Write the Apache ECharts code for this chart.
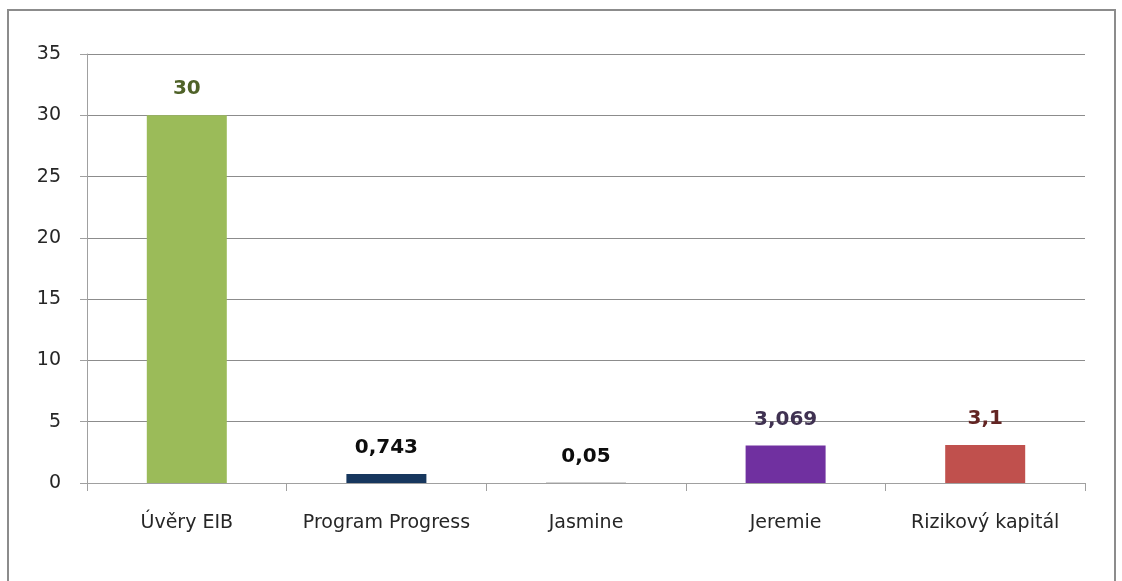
<!DOCTYPE html>
<html>
<head>
<meta charset="utf-8">
<script src="https://cdn.jsdelivr.net/npm/echarts@6/dist/echarts.min.js"></script>
<style>
html,body{margin:0;padding:0;background:#fff;}
#chart{width:1122px;height:581px;}
</style>
</head>
<body>
<div id="chart"></div>
<script>
const categories = ['Úvěry EIB', 'Program Progress', 'Jasmine', 'Jeremie', 'Rizikový kapitál'];
const values = [30, 0.743, 0.05, 3.069, 3.1];
const barColors = ['#9bbb59', '#17375e', '#a6a6a6', '#7030a0', '#c0504d'];
const labelColors = ['#4f6228', '#0d0d0d', '#0d0d0d', '#3f3151', '#632523'];
const yTicks = [0, 5, 10, 15, 20, 25, 30, 35];

const chart = echarts.init(document.getElementById('chart'), null, {renderer: 'canvas'});
const fontFamily = '"DejaVu Sans", sans-serif';
chart.setOption({
  animation: false,
  backgroundColor: '#fff',
  graphic: [{
    type: 'rect',
    shape: {x: 8, y: 10, width: 1107, height: 600},
    style: {fill: 'none', stroke: '#8c8c8c', lineWidth: 2},
    silent: true
  }],
  grid: {left: 87, right: 37, top: 54, bottom: 98, containLabel: false},
  xAxis: {
    type: 'category',
    data: categories,
    axisLine: {show: true, lineStyle: {color: '#a0a0a0', width: 1}},
    axisTick: {show: true, interval: 0, length: 8, alignWithLabel: false, lineStyle: {color: '#a0a0a0'}},
    axisLabel: {interval: 0, margin: 31, fontSize: 19, color: '#262626', fontFamily: fontFamily, hideOverlap: false},
    splitLine: {show: false}
  },
  yAxis: {
    type: 'value',
    min: yTicks[0],
    max: yTicks[yTicks.length - 1],
    interval: 5,
    axisLine: {show: true, lineStyle: {color: '#a0a0a0', width: 1}},
    axisTick: {show: true, length: 7, lineStyle: {color: '#a0a0a0'}},
    axisLabel: {margin: 26, fontSize: 19, color: '#262626', fontFamily: fontFamily},
    splitLine: {show: true, lineStyle: {color: '#8c8c8c', width: 1}}
  },
  series: [{
    type: 'bar',
    barWidth: 80,
    data: values.map((v, i) => ({
      value: v,
      itemStyle: {color: barColors[i]},
      label: {color: labelColors[i]}
    })),
    label: {
      show: true,
      position: 'top',
      distance: 16,
      fontSize: 20,
      fontWeight: 'bold',
      fontFamily: fontFamily,
      formatter: p => String(p.value).replace('.', ',')
    }
  }]
});
</script>
</body>
</html>
